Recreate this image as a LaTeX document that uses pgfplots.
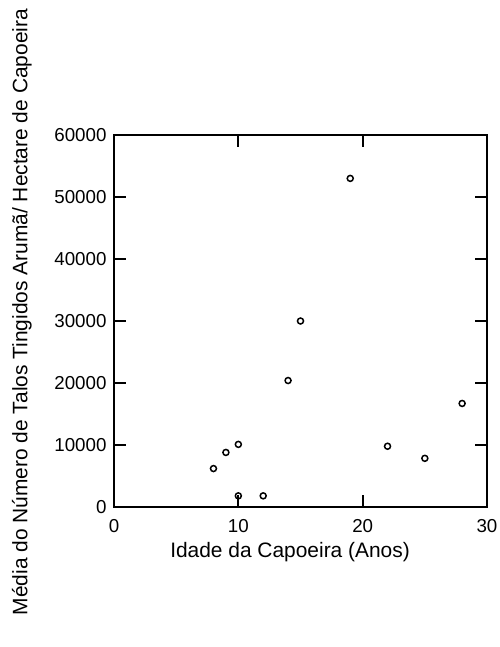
\documentclass[border=0pt]{standalone}
\usepackage{fontspec}
\setmainfont{Liberation Sans}
\usepackage{pgfplots}
\pgfplotsset{compat=1.18}

\begin{document}
\begin{tikzpicture}
\begin{axis}[
  at={(0,0)}, anchor=south west,
  scale only axis,
  width=373bp, height=372bp,
  xmin=0, xmax=30, ymin=0, ymax=60000,
  xtick={0,10,20,30},
  ytick={0,10000,...,60000},
  scaled y ticks=false,
  /pgf/number format/assume math mode=true,
  yticklabel={\pgfmathprintnumber[fixed,1000 sep={}]{\tick}},
  tick align=inside,
  ticks=major,
  major tick length=12bp,
  major tick style={line width=2.2bp, black},
  axis line style={line width=2.2bp, black},
  tick label style={font=\fontsize{18.8}{22}\selectfont},
  yticklabel style={anchor=east, xshift=-4bp},
  xticklabel style={anchor=north, yshift=-9bp},
  xlabel={Idade da Capoeira (Anos)},
  ylabel={Média do Número de Talos Tingidos Arumã/ Hectare de Capoeira},
  label style={font=\fontsize{21}{24}\selectfont},
  xlabel style={at={(axis description cs:0.472,-0.122)}, anchor=center},
  ylabel style={at={(axis description cs:-0.247,0.524)}, anchor=center, rotate=0},
  clip=false,
]
\addplot[only marks, mark=o, mark size=3bp, mark options={line width=1.5bp, black}]
  coordinates {
    (8,6200) (9,8800) (10,10100) (10,1800) (12,1800)
    (14,20400) (15,30000) (19,53000) (22,9800) (25,7850) (28,16700)
  };
\end{axis}
\pgfresetboundingbox
\path[use as bounding box] (-114bp,-140bp) rectangle (386bp,507bp);
\end{tikzpicture}
\end{document}
